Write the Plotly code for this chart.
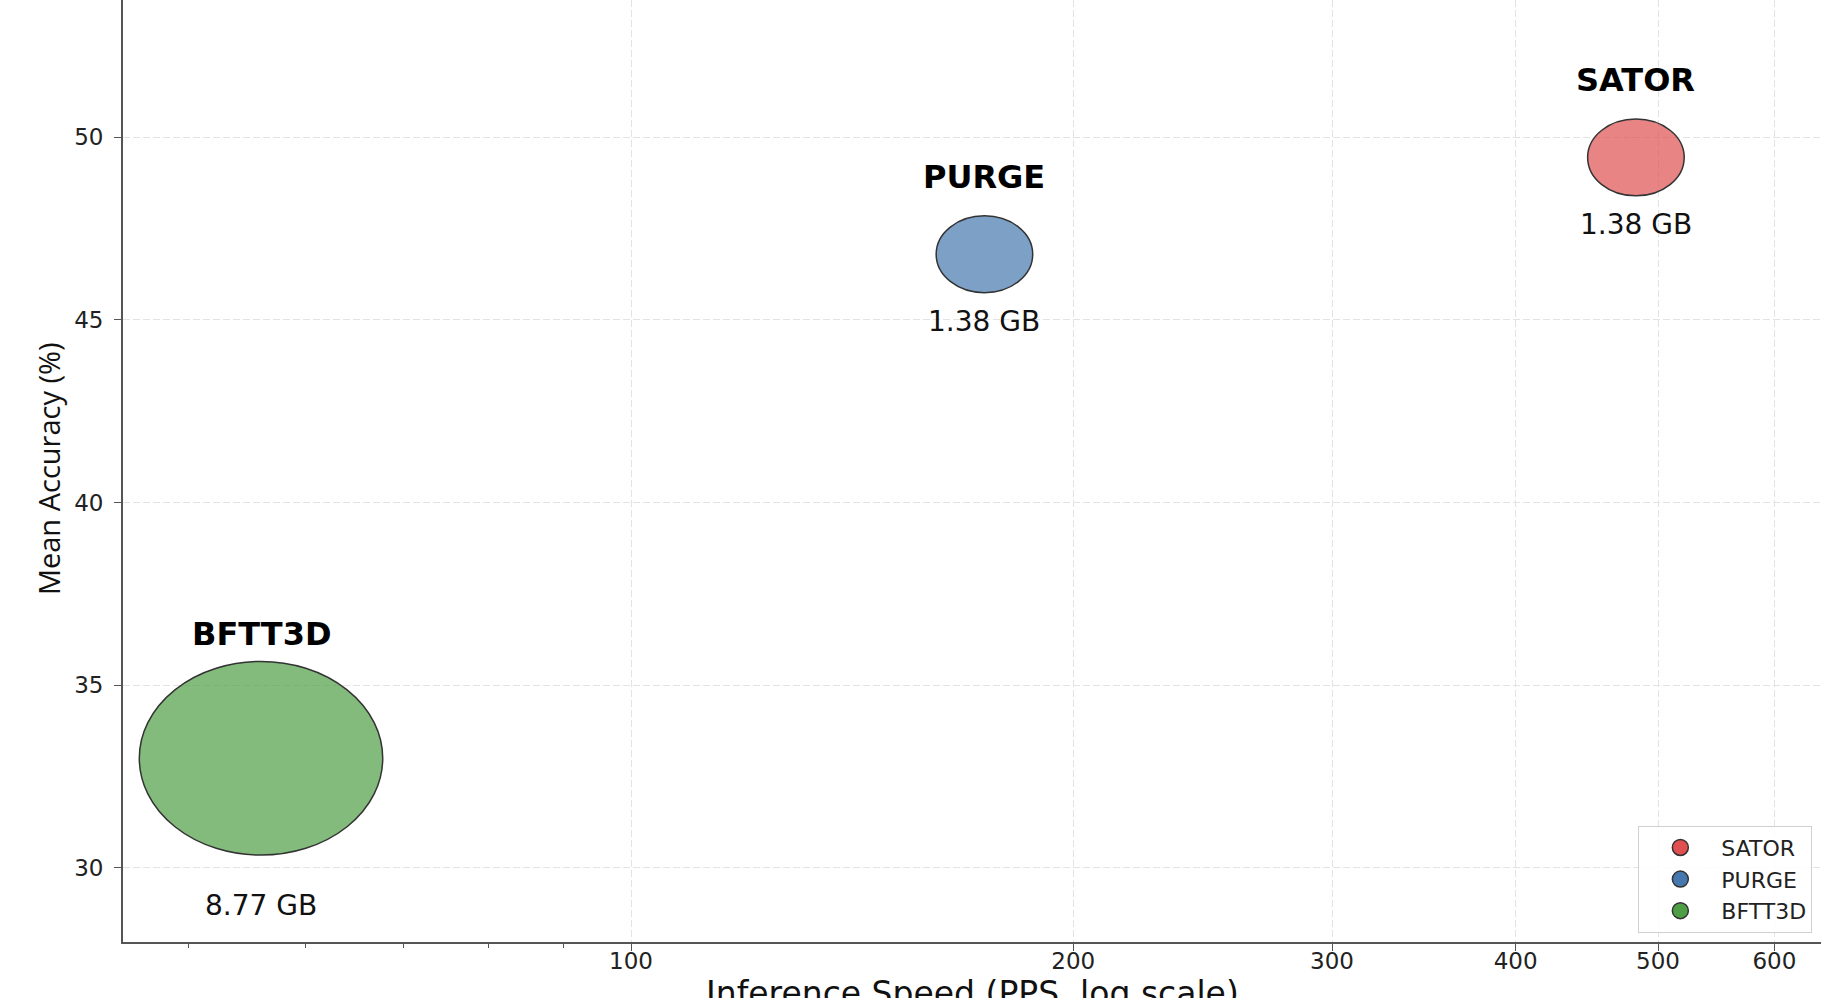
import numpy as np
import plotly.graph_objects as go

# Methods compared: throughput (points/s), accuracy and GPU memory footprint
methods = ["SATOR", "PURGE", "BFTT3D"]
speed_pps = [483, 174, 56]
mean_accuracy = [49.45, 46.8, 33.0]
memory_gb = [1.38, 1.38, 8.77]

x_tick_vals = [100, 200, 300, 400, 500, 600]
x_minor_vals = [50, 60, 70, 80, 90]
y_tick_vals = [30, 35, 40, 45, 50]

# Styling
base_colors = ["rgb(224,80,80)", "rgb(70,120,175)", "rgb(78,158,70)"]
fill_colors = ["rgba(224,80,80,0.7)", "rgba(70,120,175,0.7)", "rgba(78,158,70,0.7)"]
edge_color = "#333333"
axis_color = "#555555"
grid_color = "#E3E3E3"
font_main = "DejaVu Sans"

X_LOG_RANGE = [1.65426, 2.80991]

# bubble radii in pixels grow with sqrt(memory) so area tracks memory
RX_PER_SQRT_GB = 41.1
RY_PER_SQRT_GB = 32.7

fig = go.Figure()

# Legend entries
for name, col in zip(methods, base_colors):
    fig.add_trace(go.Scatter(
        x=[None], y=[None], mode="markers", name=name,
        marker=dict(size=16, color=col, line=dict(color=edge_color, width=1.5)),
    ))

# helper trace so the linear overlay axis (log10 of speed) is instantiated
fig.add_trace(go.Scatter(x=[None], y=[None], xaxis="x2", yaxis="y",
                         showlegend=False, hoverinfo="skip"))

shapes = []
annotations = []
for name, sp, acc, mem, fc in zip(methods, speed_pps, mean_accuracy, memory_gb, fill_colors):
    r = np.sqrt(mem)
    rx, ry = RX_PER_SQRT_GB * r, RY_PER_SQRT_GB * r
    lx = np.log10(sp)
    shapes.append(dict(
        type="circle", xref="x2", yref="y",
        xsizemode="pixel", ysizemode="pixel",
        xanchor=lx, yanchor=acc,
        x0=-rx, x1=rx, y0=-ry, y1=ry,
        fillcolor=fc, line=dict(color=edge_color, width=1.5),
        layer="above",
    ))
    # method name above the bubble, memory below it
    annotations.append(dict(
        x=lx, y=acc, xref="x", yref="y",
        text=f"<b>{name}</b>", showarrow=False,
        xanchor="center", yanchor="middle",
        yshift=46.7 + 26.3 * r,
        font=dict(family=font_main, size=32, color="black"),
    ))
    annotations.append(dict(
        x=lx, y=acc, xref="x", yref="y",
        text=f"{mem:.2f} GB", showarrow=False,
        xanchor="center", yanchor="middle",
        yshift=-(14.4 + 45.0 * r),
        font=dict(family=font_main, size=28, color="#111111"),
    ))

# Axis titles
annotations.append(dict(
    x=0.5, y=-0.032, xref="paper", yref="paper",
    text="Inference Speed (PPS, log scale)", showarrow=False,
    xanchor="center", yanchor="top",
    font=dict(family=font_main, size=33, color="#111111"),
))
annotations.append(dict(
    x=-0.0442, y=0.503, xref="paper", yref="paper",
    text="Mean Accuracy (%)", showarrow=False, textangle=-90,
    xanchor="center", yanchor="middle",
    font=dict(family="Open Sans", size=29, color="#111111"),
))

fig.update_layout(
    width=1821, height=998,
    margin=dict(l=123, r=0, t=0, b=56),
    plot_bgcolor="white", paper_bgcolor="white",
    shapes=shapes, annotations=annotations,
    showlegend=True,
    legend=dict(
        x=0.9949, y=0.0099, xanchor="right", yanchor="bottom",
        bgcolor="rgba(255,255,255,0.85)", bordercolor="#D0D0D0", borderwidth=1,
        font=dict(family=font_main, size=22, color="#222222"),
        itemwidth=72, tracegroupgap=0,
    ),
    xaxis=dict(
        type="log", range=X_LOG_RANGE,
        tickmode="array", tickvals=x_tick_vals, ticktext=[str(v) for v in x_tick_vals],
        ticks="outside", ticklen=7, tickwidth=1.3, tickcolor=axis_color,
        tickfont=dict(family=font_main, size=23, color="#222222"),
        ticklabelstandoff=-10,
        showline=True, linecolor=axis_color, linewidth=1.8,
        showgrid=True, gridcolor=grid_color, gridwidth=1, griddash="7px,3px",
        zeroline=False,
        minor=dict(tickmode="array", tickvals=x_minor_vals, ticks="outside",
                   ticklen=4, tickwidth=1, tickcolor=axis_color, showgrid=False),
    ),
    xaxis2=dict(
        type="linear", range=X_LOG_RANGE, overlaying="x",
        visible=False, showgrid=False, zeroline=False, fixedrange=True,
    ),
    yaxis=dict(
        range=[27.97, 53.76],
        tickmode="array", tickvals=y_tick_vals, ticktext=[str(v) for v in y_tick_vals],
        ticks="outside", ticklen=7, tickwidth=1.3, tickcolor=axis_color,
        tickfont=dict(family=font_main, size=23, color="#222222"),
        ticklabelstandoff=6,
        showline=True, linecolor=axis_color, linewidth=1.8,
        showgrid=True, gridcolor=grid_color, gridwidth=1, griddash="7px,3px",
        zeroline=False,
    ),
)

fig.write_html("out.html")
